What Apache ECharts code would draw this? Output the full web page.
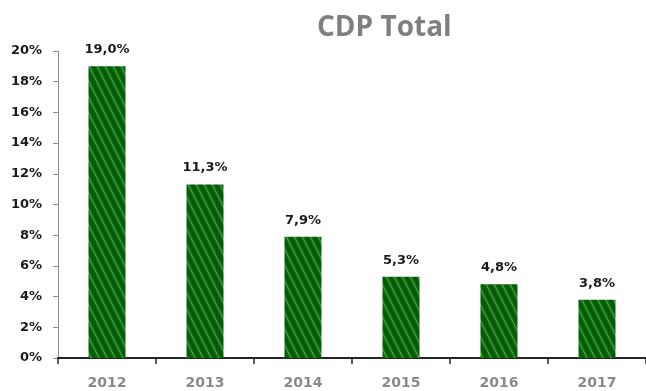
<!DOCTYPE html>
<html>
<head>
<meta charset="utf-8">
<script src="https://cdn.jsdelivr.net/npm/echarts@6/dist/echarts.min.js"></script>
<style>
  html, body { margin: 0; padding: 0; background: #fff; }
  #chart { width: 646px; height: 391px; }
</style>
</head>
<body>
<div id="chart"></div>
<script>
// Yearly CDP share
const years = ['2012', '2013', '2014', '2015', '2016', '2017'];
const cdpTotal = [19.0, 11.3, 7.9, 5.3, 4.8, 3.8];
const yTicks = { min: 0, max: 20, step: 2 };

// Hand-hatched green texture for the bars
function hatchPattern() {
  const c = document.createElement('canvas');
  c.width = 24; c.height = 48;
  const g = c.getContext('2d');
  g.fillStyle = '#0a690a';
  g.fillRect(0, 0, c.width, c.height);
  g.strokeStyle = 'rgba(170,215,170,0.55)';
  g.lineWidth = 1;
  for (let k = -4; k < 6; k++) {
    g.beginPath();
    g.moveTo(k * 8, 0);
    g.lineTo(k * 8 + 24, 48);
    g.stroke();
  }
  g.strokeStyle = 'rgba(0,85,0,0.85)';
  g.lineWidth = 2;
  for (let k = -4; k < 6; k++) {
    g.beginPath();
    g.moveTo(k * 8 + 4, 0);
    g.lineTo(k * 8 + 28, 48);
    g.stroke();
  }
  return c;
}

const labelFont = 'DejaVu Sans';

const chart = echarts.init(document.getElementById('chart'), null, { renderer: 'canvas' });
chart.setOption({
  animation: false,
  backgroundColor: '#ffffff',
  title: {
    text: 'CDP Total',
    left: 312,
    top: 9,
    textStyle: { fontFamily: 'Open Sans', fontSize: 28, fontWeight: 'bold', color: '#7f7f7f' }
  },
  grid: { left: 58, right: -6, top: 51, bottom: 33, containLabel: false },
  xAxis: {
    type: 'category',
    data: years,
    axisLine: { lineStyle: { color: '#262626', width: 2 } },
    axisTick: { show: true, alignWithLabel: false, length: 6, lineStyle: { color: '#262626', width: 1.5 } },
    axisLabel: { margin: 18, color: '#8a8a8a', fontFamily: labelFont, fontWeight: 'bold', fontSize: 14 }
  },
  yAxis: {
    type: 'value',
    min: yTicks.min,
    max: yTicks.max,
    interval: yTicks.step,
    splitLine: { show: false },
    axisLine: { show: true, lineStyle: { color: '#8c8c8c', width: 1 } },
    axisTick: { show: true, length: 5, lineStyle: { color: '#8c8c8c' } },
    axisLabel: {
      margin: 16,
      color: '#1a1a1a',
      fontFamily: labelFont,
      fontWeight: 'bold',
      fontSize: 13,
      formatter: v => v + '%'
    }
  },
  series: [{
    type: 'bar',
    data: cdpTotal,
    barWidth: 37,
    itemStyle: {
      color: { image: hatchPattern(), repeat: 'repeat' }
    },
    label: {
      show: true,
      position: 'top',
      distance: 10,
      color: '#1a1a1a',
      fontFamily: labelFont,
      fontWeight: 'bold',
      fontSize: 13,
      formatter: p => p.value.toFixed(1).replace('.', ',') + '%'
    }
  }]
});
</script>
</body>
</html>
